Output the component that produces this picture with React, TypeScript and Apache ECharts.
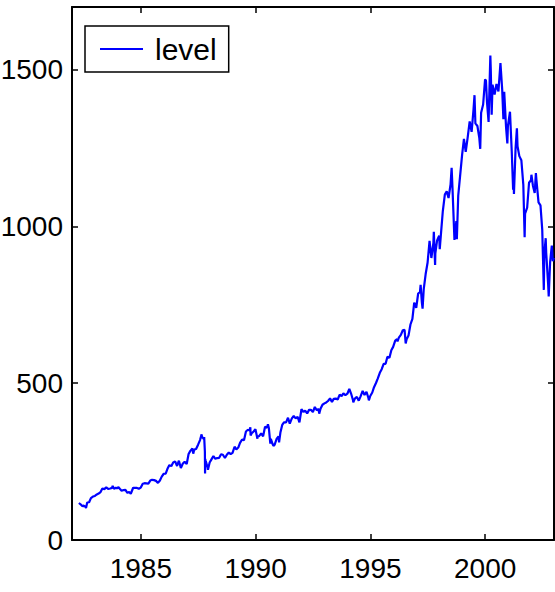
import React, { useEffect, useRef } from 'react';
import * as echarts from 'echarts';

const dates: string[] = [
  '1982-04-20','1982-05-28','1982-06-18','1982-06-30','1982-07-30','1982-08-12','1982-08-31','1982-09-30','1982-10-29','1982-11-30','1982-12-31',
  '1983-01-31','1983-02-28','1983-03-31','1983-04-29','1983-05-31','1983-06-30','1983-07-29','1983-08-31','1983-09-30','1983-10-10','1983-10-31','1983-11-30','1983-12-30',
  '1984-01-06','1984-01-31','1984-02-29','1984-03-30','1984-04-30','1984-05-31','1984-06-29','1984-07-24','1984-07-31','1984-08-31','1984-09-28','1984-10-31','1984-11-30','1984-12-31',
  '1985-01-31','1985-02-28','1985-03-29','1985-04-30','1985-05-31','1985-06-28','1985-07-31','1985-08-30','1985-09-30','1985-10-31','1985-11-29','1985-12-31',
  '1986-01-31','1986-02-28','1986-03-31','1986-04-30','1986-05-30','1986-06-30','1986-07-31','1986-08-29','1986-09-04','1986-09-29','1986-10-31','1986-11-28','1986-12-31',
  '1987-01-30','1987-02-27','1987-03-31','1987-04-14','1987-04-30','1987-05-29','1987-06-30','1987-07-31','1987-08-25','1987-08-31','1987-09-30','1987-10-05','1987-10-16','1987-10-19','1987-10-21','1987-10-30','1987-11-30','1987-12-04','1987-12-31',
  '1988-01-29','1988-02-29','1988-03-31','1988-04-29','1988-05-31','1988-06-30','1988-07-29','1988-08-31','1988-09-30','1988-10-31','1988-11-30','1988-12-30',
  '1989-01-31','1989-02-28','1989-03-31','1989-04-28','1989-05-31','1989-06-30','1989-07-31','1989-08-31','1989-09-29','1989-10-09','1989-10-13','1989-10-31','1989-11-30','1989-12-29',
  '1990-01-30','1990-01-31','1990-02-28','1990-03-30','1990-04-30','1990-05-31','1990-06-29','1990-07-16','1990-07-31','1990-08-23','1990-08-31','1990-09-28','1990-10-11','1990-10-31','1990-11-30','1990-12-31',
  '1991-01-09','1991-01-31','1991-02-28','1991-03-28','1991-04-30','1991-05-31','1991-06-28','1991-07-31','1991-08-30','1991-09-30','1991-10-31','1991-11-29','1991-12-31',
  '1992-01-31','1992-02-28','1992-03-31','1992-04-30','1992-05-29','1992-06-30','1992-07-31','1992-08-31','1992-09-30','1992-10-09','1992-10-30','1992-11-30','1992-12-31',
  '1993-01-29','1993-02-26','1993-03-31','1993-04-30','1993-05-28','1993-06-30','1993-07-30','1993-08-31','1993-09-30','1993-10-29','1993-11-30','1993-12-31',
  '1994-01-31','1994-02-02','1994-02-28','1994-03-31','1994-04-04','1994-04-29','1994-05-31','1994-06-30','1994-07-29','1994-08-31','1994-09-30','1994-10-31','1994-11-30','1994-12-08','1994-12-30',
  '1995-01-31','1995-02-28','1995-03-31','1995-04-28','1995-05-31','1995-06-30','1995-07-31','1995-08-31','1995-09-29','1995-10-31','1995-11-30','1995-12-29',
  '1996-01-31','1996-02-29','1996-03-08','1996-03-29','1996-04-30','1996-05-31','1996-06-28','1996-07-16','1996-07-31','1996-08-30','1996-09-30','1996-10-31','1996-11-29','1996-12-31',
  '1997-01-31','1997-02-28','1997-03-11','1997-03-31','1997-04-11','1997-04-30','1997-05-30','1997-06-30','1997-07-31','1997-08-29','1997-09-30','1997-10-07','1997-10-27','1997-10-31','1997-11-28','1997-12-31',
  '1998-01-09','1998-01-30','1998-02-27','1998-03-31','1998-04-30','1998-05-29','1998-06-30','1998-07-17','1998-07-31','1998-08-31','1998-09-30','1998-10-08','1998-10-30','1998-11-30','1998-12-31',
  '1999-01-29','1999-02-26','1999-03-31','1999-04-30','1999-05-31','1999-06-30','1999-07-16','1999-07-30','1999-08-31','1999-09-30','1999-10-15','1999-10-29','1999-11-30','1999-12-31',
  '2000-01-14','2000-01-31','2000-02-25','2000-02-29','2000-03-24','2000-03-31','2000-04-14','2000-04-28','2000-05-31','2000-06-30','2000-07-31','2000-08-31','2000-09-01','2000-09-29','2000-10-18','2000-10-31','2000-11-30','2000-12-20','2000-12-29',
  '2001-01-31','2001-02-28','2001-03-22','2001-03-30','2001-04-04','2001-04-30','2001-05-21','2001-05-31','2001-06-29','2001-07-31','2001-08-31','2001-09-21','2001-09-28','2001-10-31','2001-11-30','2001-12-31',
  '2002-01-07','2002-01-31','2002-02-28','2002-03-19','2002-03-28','2002-04-30','2002-05-31','2002-06-28','2002-07-23','2002-07-31','2002-08-22','2002-08-30','2002-09-30','2002-10-09','2002-10-31','2002-11-27','2002-11-29','2002-12-13','2002-12-31'
];

const level: number[] = [
  118,111.9,107.3,109.6,107.1,102.4,119.5,120.4,133.7,138.5,140.6,
  145.3,148.1,153.0,164.4,162.4,168.1,162.6,164.4,166.1,172.6,163.6,166.4,164.9,
  169.3,163.4,157.1,159.2,160.1,150.6,153.2,147.8,150.7,166.7,166.1,166.1,163.6,167.2,
  179.6,181.2,180.7,179.8,189.6,191.9,190.9,188.6,182.1,189.8,202.2,211.3,
  211.8,226.9,238.9,235.5,247.4,250.8,236.1,252.9,253.8,229.9,244.0,249.2,242.2,
  274.1,284.2,291.7,275.3,288.4,290.1,304.0,318.7,336.8,329.8,321.8,328.1,282.7,212,258.4,251.8,230.3,223.9,247.1,
  257.1,267.8,258.9,261.3,262.2,273.5,272.0,261.5,271.9,279.0,273.7,277.7,
  297.5,288.9,294.9,309.6,320.5,318.0,346.1,351.5,349.2,359.8,333.7,340.4,346.0,353.4,
  323.0,329.1,331.9,339.9,330.8,361.2,358.0,369.0,356.2,307.1,322.6,306.1,300,304.0,322.2,330.2,
  311.5,343.9,367.1,375.2,375.3,389.8,371.2,387.8,395.4,387.9,392.5,375.2,417.1,
  408.8,412.7,403.7,415.0,415.4,408.1,424.2,414.0,417.8,402.7,418.7,431.4,435.7,
  438.8,443.4,451.7,440.2,450.2,451.0,448.1,463.6,458.9,467.8,461.8,466.5,
  481.6,482.0,467.1,445.8,438.9,450.9,456.5,444.3,458.3,475.5,462.7,472.4,453.7,445.5,459.3,
  470.4,487.4,500.7,514.7,533.4,544.8,562.1,561.9,584.4,581.5,605.4,615.9,
  636.0,640.4,633.5,645.5,654.2,669.1,670.6,626.9,640.0,652.0,687.3,705.3,757.0,740.7,
  786.2,790.8,813.7,757.1,737.7,801.3,848.3,885.1,954.3,899.5,947.3,983.1,877.0,914.6,955.4,970.4,
  927.7,980.3,1049.3,1101.8,1111.8,1090.8,1133.8,1186.8,1120.7,957.3,1017.0,959.4,1098.7,1163.6,1229.2,
  1279.6,1238.3,1286.4,1335.2,1301.8,1372.7,1418.8,1328.7,1320.4,1282.7,1247.4,1362.9,1388.9,1469.3,
  1465.2,1394.5,1333.4,1366.4,1545,1498.6,1356.6,1452.4,1420.6,1454.6,1430.8,1517.7,1520.8,1436.5,1342.1,1429.4,1315.2,1264.7,1320.3,
  1366.0,1239.9,1117.6,1160.3,1103.3,1249.5,1312.8,1255.8,1224.4,1211.2,1133.6,965.8,1040.9,1059.8,1139.5,1148.1,
  1164.9,1130.2,1106.7,1170.3,1147.4,1076.9,1067.1,989.8,797.7,911.6,962.7,916.1,815.3,776.8,885.8,938.9,936.3,889.5,900
];

const seriesName = 'level';
const xTicks = [1985, 1990, 1995, 2000];
const yTicks = [0, 500, 1000, 1500];

function toYear(d: string): number {
  const [y, m, dd] = d.split('-').map(Number);
  const start = Date.UTC(y, 0, 1);
  const end = Date.UTC(y + 1, 0, 1);
  return y + (Date.UTC(y, m - 1, dd) - start) / (end - start);
}

const FONT = '"Liberation Sans", Arial, Helvetica, sans-serif';

export default function App() {
  const ref = useRef<HTMLDivElement>(null);
  useEffect(() => {
    if (!ref.current) return;
    const chart = echarts.init(ref.current, null, { renderer: 'svg' });
    const axisLine = { show: true, onZero: false, lineStyle: { color: '#000', width: 2 } };
    const tickStyle = { color: '#000', width: 1.5 };
    const option: any = {
      animation: false,
      backgroundColor: '#fff',
      grid: { left: 72, right: 1, top: 7, bottom: 52, containLabel: false, outerBoundsMode: 'none' },
      legend: {
        left: 85,
        top: 26,
        orient: 'vertical',
        selectedMode: false,
        data: [{ name: seriesName, icon: 'rect' }],
        itemWidth: 43,
        itemHeight: 2,
        padding: [8, 12, 8, 15],
        backgroundColor: '#fff',
        borderColor: '#000',
        borderWidth: 1.5,
        borderRadius: 0,
        itemStyle: { color: '#0000ff' },
        textStyle: { fontSize: 30, fontFamily: FONT, color: '#000', padding: [0, 0, 0, 7] },
      },
      xAxis: [
        {
          type: 'value', min: 1982, max: 2003, position: 'bottom',
          axisLine,
          axisTick: { show: true, inside: true, length: 6, lineStyle: tickStyle, customValues: xTicks },
          axisLabel: { show: true, customValues: xTicks, formatter: (v: number) => String(v), color: '#000', fontSize: 28, fontFamily: FONT, margin: 14 },
          splitLine: { show: false },
        },
        {
          type: 'value', min: 1982, max: 2003, position: 'top',
          axisLine,
          axisTick: { show: true, inside: true, length: 6, lineStyle: tickStyle, customValues: xTicks },
          axisLabel: { show: false },
          splitLine: { show: false },
        },
      ],
      yAxis: [
        {
          type: 'value', min: 0, max: 1700, position: 'left',
          axisLine,
          axisTick: { show: true, inside: true, length: 6, lineStyle: tickStyle, customValues: yTicks },
          axisLabel: { show: true, customValues: yTicks, formatter: (v: number) => String(v), color: '#000', fontSize: 28, fontFamily: FONT, margin: 9 },
          splitLine: { show: false },
        },
        {
          type: 'value', min: 0, max: 1700, position: 'right',
          axisLine,
          axisTick: { show: true, inside: true, length: 6, lineStyle: tickStyle, customValues: yTicks },
          axisLabel: { show: false },
          splitLine: { show: false },
        },
      ],
      series: [
        {
          type: 'line',
          name: seriesName,
          xAxisIndex: 0,
          yAxisIndex: 0,
          data: dates.map((d, i) => [toYear(d), level[i]]),
          symbol: 'none',
          showSymbol: false,
          lineStyle: { color: '#0000ff', width: 2.2 },
          itemStyle: { color: '#0000ff' },
        },
      ],
    };
    chart.setOption(option);
    return () => chart.dispose();
  }, []);
  return <div ref={ref} style={{ position: 'absolute', left: 0, top: 0, width: 555, height: 592 }} />;
}
